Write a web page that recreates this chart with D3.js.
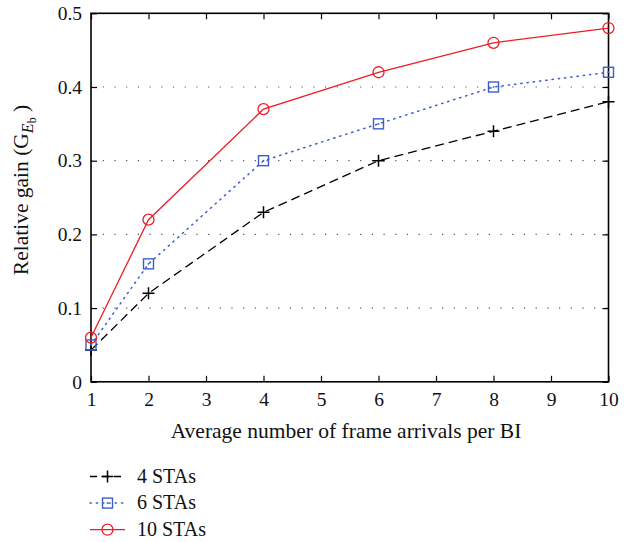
<!DOCTYPE html>
<html>
<head>
<meta charset="utf-8">
<script src="https://cdn.jsdelivr.net/npm/d3@7"></script>
<style>
  html, body { margin: 0; padding: 0; background: #fff; }
  svg { display: block; font-family: "Liberation Serif", "DejaVu Serif", serif; }
</style>
</head>
<body>
<svg id="chart" width="634" height="542"></svg>
<script>
// Average number of frame arrivals per BI
const arrivals = [1, 2, 4, 6, 8, 10];
const sta4 = [0.043, 0.12, 0.23, 0.30, 0.34, 0.38];
const sta6 = [0.05, 0.16, 0.30, 0.35, 0.40, 0.42];
const sta10 = [0.06, 0.22, 0.37, 0.42, 0.46, 0.48];
const xTicks = [1, 2, 3, 4, 5, 6, 7, 8, 9, 10];
const yTicks = [0, 0.1, 0.2, 0.3, 0.4, 0.5];
const gridTicks = [0.1, 0.2, 0.3, 0.4];

const series = [
  { name: "4 STAs", values: sta4, color: "#000000", dash: "9,5", width: 1.3, marker: "plus" },
  { name: "6 STAs", values: sta6, color: "#3a5fcd", dash: "1.3,5", width: 1.5, marker: "square" },
  { name: "10 STAs", values: sta10, color: "#ee1c25", dash: null, width: 1.3, marker: "circle" }
];

const svg = d3.select("#chart");
const plotL = 91, plotR = 608.5, plotT = 13.3, plotB = 381.8;

const x = d3.scaleLinear().domain([1, 10]).range([plotL, plotR]);
const y = d3.scaleLinear().domain([0, 0.5]).range([plotB, plotT]);

// horizontal dotted grid
svg.append("g").selectAll("line").data(gridTicks).join("line")
  .attr("x1", plotL).attr("x2", plotR)
  .attr("y1", d => y(d)).attr("y2", d => y(d))
  .attr("stroke", "#555").attr("stroke-width", 1.2)
  .attr("stroke-dasharray", "1.2,10.5");

// axes with inward ticks, mirrored on top and right
const tickLen = 6;
const axB = svg.append("g").attr("transform", `translate(0,${plotB})`)
  .call(d3.axisBottom(x).tickValues(xTicks).tickSizeInner(-tickLen).tickSizeOuter(0).tickPadding(10).tickFormat(d3.format("d")));
const axT = svg.append("g").attr("transform", `translate(0,${plotT})`)
  .call(d3.axisTop(x).tickValues(xTicks).tickSizeInner(-tickLen).tickSizeOuter(0).tickFormat(""));
const axL = svg.append("g").attr("transform", `translate(${plotL},0)`)
  .call(d3.axisLeft(y).tickValues(yTicks).tickSizeInner(-tickLen).tickSizeOuter(0).tickPadding(9)
    .tickFormat(d => d === 0 ? "0" : d3.format(".1f")(d)));
const axR = svg.append("g").attr("transform", `translate(${plotR},0)`)
  .call(d3.axisRight(y).tickValues(yTicks).tickSizeInner(-tickLen).tickSizeOuter(0).tickFormat(""));

[axB, axT, axL, axR].forEach(a => {
  a.select(".domain").remove();
  a.selectAll(".tick line").attr("stroke", "#000").attr("stroke-width", 1.2);
  a.selectAll("text").attr("font-family", "Liberation Serif, serif").attr("font-size", 19.5).attr("fill", "#111");
});

// frame
svg.append("rect").attr("x", plotL).attr("y", plotT)
  .attr("width", plotR - plotL).attr("height", plotB - plotT)
  .attr("fill", "none").attr("stroke", "#000").attr("stroke-width", 1.6);

function drawMarker(g, type, cx, cy, color) {
  if (type === "plus") {
    g.append("path").attr("d", `M${cx - 6},${cy}H${cx + 6}M${cx},${cy - 6}V${cy + 6}`)
      .attr("stroke", color).attr("stroke-width", 1.5).attr("fill", "none");
  } else if (type === "square") {
    g.append("rect").attr("x", cx - 5).attr("y", cy - 5).attr("width", 10).attr("height", 10)
      .attr("stroke", color).attr("stroke-width", 1.4).attr("fill", "none");
    g.append("rect").attr("x", cx - 0.8).attr("y", cy - 0.8).attr("width", 1.6).attr("height", 1.6)
      .attr("fill", color);
  } else {
    g.append("circle").attr("cx", cx).attr("cy", cy).attr("r", 5.5)
      .attr("stroke", color).attr("stroke-width", 1.3).attr("fill", "none");
  }
}

const line = d3.line().x((d, i) => x(arrivals[i])).y(d => y(d));

series.forEach(s => {
  const g = svg.append("g");
  g.append("path").datum(s.values).attr("d", line)
    .attr("fill", "none").attr("stroke", s.color).attr("stroke-width", s.width)
    .attr("stroke-dasharray", s.dash).attr("stroke-linecap", s.marker === "square" ? "round" : "butt");
  s.values.forEach((v, i) => drawMarker(g, s.marker, x(arrivals[i]), y(v), s.color));
});

// axis titles
svg.append("text").attr("x", 346).attr("y", 438)
  .attr("text-anchor", "middle").attr("font-size", 21.5).attr("fill", "#111")
  .text("Average number of frame arrivals per BI");

const yl = svg.append("text").attr("transform", "translate(28,190) rotate(-90)")
  .attr("text-anchor", "middle").attr("font-size", 21.5).attr("fill", "#111");
yl.append("tspan").text("Relative gain (G");
yl.append("tspan").attr("font-style", "italic").attr("font-size", 16).attr("dy", 5).text("E");
yl.append("tspan").attr("font-size", 12).attr("dy", 3).text("b");
yl.append("tspan").attr("dy", -8).text(" )");

// legend
const leg = svg.append("g");
series.forEach((s, i) => {
  const ly = 476.5 + i * 26.6;
  leg.append("line").attr("x1", 90).attr("x2", 125).attr("y1", ly).attr("y2", ly)
    .attr("stroke", s.color).attr("stroke-width", s.width)
    .attr("stroke-dasharray", s.marker === "plus" ? "7,5" : s.dash)
    .attr("stroke-linecap", s.marker === "square" ? "round" : "butt");
  drawMarker(leg, s.marker, 107.5, ly, s.color);
  leg.append("text").attr("x", 137).attr("y", ly + 6)
    .attr("font-size", 20).attr("fill", "#111").text(s.name);
});
</script>
</body>
</html>
